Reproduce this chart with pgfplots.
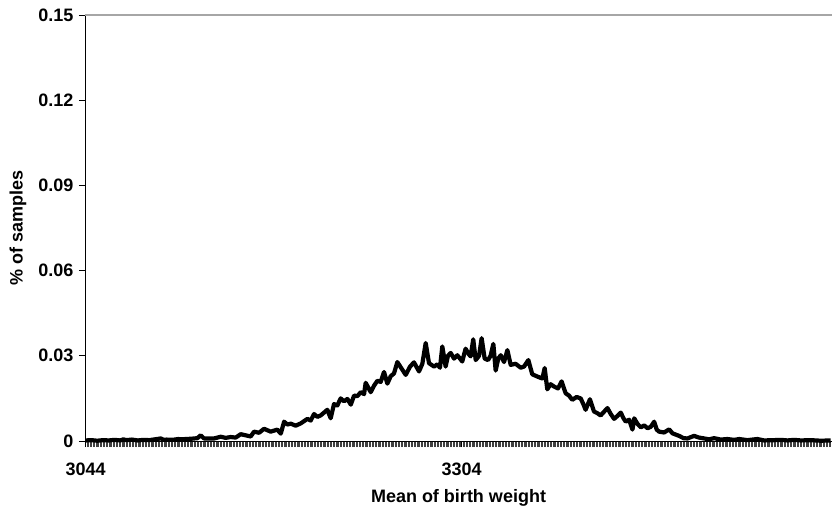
\documentclass[border=0pt]{standalone}
\usepackage{pgfplots}
\pgfplotsset{compat=1.18}
\usepackage{fontspec}
\setmainfont{Liberation Sans}
\begin{document}
\begin{tikzpicture}
\useasboundingbox (0,0) rectangle (832pt,507pt);
\begin{axis}[
  at={(85pt,66pt)}, anchor=south west,
  scale only axis, width=747pt, height=426pt,
  xmin=3043.5, xmax=3560.1, ymin=0, ymax=0.15,
  axis x line*=bottom, axis y line*=left,
  axis line style={-, black, line width=0.8pt},
  xtick={3044,3304}, xticklabels={3044,3304},
  minor xtick={3044,3045,...,3560},
  ytick={0,0.03,0.06,0.09,0.12,0.15},
  yticklabels={0,0.03,0.06,0.09,0.12,0.15},
  tick align=outside, major tick length=6pt, minor tick length=6pt,
  tick style={black, line width=0.8pt},
  minor tick style={black!75, line width=0.55pt},
  tick label style={font=\fontsize{18}{20}\selectfont\bfseries},
  xticklabel style={anchor=center, yshift=-22pt},
  yticklabel style={anchor=east, xshift=-2pt},
  every axis x label/.style={at={(rel axis cs:0.5,0)}, anchor=center, yshift=-57pt, font=\fontsize{18}{20}\selectfont\bfseries},
  every axis y label/.style={at={(axis description cs:-0.0897,0.5)}, rotate=90, anchor=center, font=\fontsize{18}{20}\selectfont\bfseries},
  xlabel={Mean of birth weight},
  ylabel={\% of samples},
  clip=false,
]
\draw[gray!70, line width=1.6pt] (rel axis cs:0,1) -- (rel axis cs:1,1);
\addplot[black, line width=4.2pt, line join=round, mark=none] coordinates {
(3044,0.0002) (3048,0.0003) (3052,0.0001) (3056,0.0003) (3060,0.0002) (3064,0.0004)
(3068,0.0002) (3070,0.0006) (3072,0.0003) (3076,0.0005) (3080,0.0002) (3084,0.0004)
(3088,0.0003) (3092,0.0006) (3096,0.0009) (3098,0.0004) (3100,0.0005) (3104,0.0004) (3108,0.0007)
(3110,0.0006) (3117,0.0008) (3121.2,0.0010) (3123.5,0.0020) (3125.8,0.0009) (3132.8,0.0009)
(3137.4,0.0015) (3140.8,0.0011) (3144.3,0.0014) (3147.7,0.0012) (3151.2,0.0024) (3154.6,0.0020)
(3158.1,0.0016) (3160.4,0.0033) (3163.9,0.0029) (3167.3,0.0043) (3169.6,0.0038) (3171.9,0.0033)
(3176.5,0.0040) (3178.9,0.0026) (3181.2,0.0068) (3183.5,0.0058) (3185.8,0.0061) (3189.2,0.0054)
(3192.7,0.0062) (3195,0.0070) (3197.3,0.0078) (3199.6,0.0072) (3201.9,0.0095) (3204.2,0.0085)
(3206.5,0.0090) (3208.8,0.0100) (3211.1,0.0110) (3213.4,0.0080) (3215.7,0.0130) (3218,0.0125)
(3220.3,0.0150) (3222.6,0.0140) (3225,0.0148) (3227.3,0.0128) (3229.6,0.0160) (3231.9,0.0158)
(3234.2,0.0172) (3236.5,0.0165) (3237.6,0.0205) (3239.2,0.0190) (3241.1,0.0172) (3243.4,0.0195)
(3245.7,0.0212) (3248,0.0208) (3250.3,0.0243) (3252.6,0.0202) (3254.9,0.0228) (3257.2,0.0238)
(3259.5,0.0278) (3261.8,0.0260) (3265.3,0.0233) (3268.3,0.0262) (3271,0.0277) (3274.5,0.0245)
(3276.8,0.0272) (3279.1,0.0345) (3281.4,0.0274) (3284.9,0.0262) (3287.2,0.0270) (3289,0.0258)
(3290.6,0.0333) (3292.9,0.0262) (3294.5,0.0300) (3296.4,0.0310) (3298.7,0.0290) (3301,0.0302)
(3304.4,0.0280) (3306.7,0.0325) (3309,0.0305) (3310.2,0.0298) (3312,0.0358) (3313.7,0.0285)
(3316,0.0300) (3317.8,0.0362) (3319.9,0.0290) (3322.2,0.0285) (3324,0.0300) (3325.9,0.0342)
(3327.5,0.0248) (3329.3,0.0290) (3331,0.0302) (3333.3,0.0278) (3335.6,0.0320) (3337.9,0.0268)
(3341.3,0.0272) (3344.8,0.0258) (3347.1,0.0262) (3350.1,0.0285) (3352.8,0.0235) (3356.3,0.0227)
(3359.8,0.0220) (3361.4,0.0257) (3363.2,0.0182) (3365.5,0.0200) (3367.8,0.0192) (3370.6,0.0185)
(3373.1,0.0210) (3375.9,0.0168) (3378.2,0.0160) (3380.5,0.0145) (3383.5,0.0155) (3386.3,0.0150)
(3388.1,0.0130) (3389.7,0.0110) (3392.7,0.0147) (3395.5,0.0104) (3397.8,0.0098) (3400.1,0.0090)
(3404.8,0.0116) (3407.1,0.0095) (3409.4,0.0078) (3411.7,0.0088) (3414,0.0100) (3415.9,0.0080)
(3417.5,0.0068) (3419.8,0.0075) (3422.1,0.0040) (3423.3,0.0080) (3425.6,0.0060) (3427.9,0.0048)
(3430.2,0.0055) (3432.5,0.0045) (3434.8,0.0050) (3437.1,0.0068) (3438.9,0.0040) (3440.5,0.0033)
(3444,0.0030) (3447.5,0.0041) (3449.8,0.0027) (3454.4,0.0018) (3457.4,0.0010) (3460.1,0.0009)
(3464.7,0.0018) (3468.2,0.0012) (3471.7,0.0009) (3475.1,0.0006) (3478.6,0.0010) (3483.2,0.0005)
(3487.8,0.0007) (3492.4,0.0004) (3495.9,0.0007) (3501.6,0.0003) (3508.5,0.0007) (3513.1,0.0002)
(3520,0.0003) (3524.7,0.0004) (3529.3,0.0002) (3533.9,0.0004) (3538.5,0.0002) (3545.4,0.0003)
(3552.3,0.0001) (3559.2,0.0002)
};
\end{axis}
\end{tikzpicture}
\end{document}
